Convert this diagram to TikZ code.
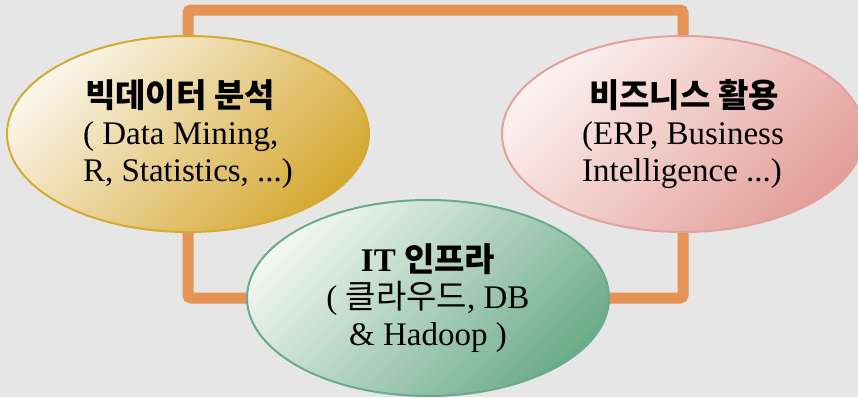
\documentclass[tikz,border=0pt]{standalone}
\usepackage{fontspec}
\setmainfont{Liberation Serif}
\newfontfamily\kr{Noto Sans CJK KR}
\usetikzlibrary{shapes.geometric}
\definecolor{bg}{HTML}{E6E6E6}
\definecolor{frameor}{HTML}{E59455}
\definecolor{ybd}{HTML}{D4AA30}
\definecolor{ytop}{HTML}{FBF5EA}
\definecolor{ybot}{HTML}{D5A933}
\definecolor{pbd}{HTML}{E3A19B}
\definecolor{ptop}{HTML}{FCF1F0}
\definecolor{pbot}{HTML}{E39F99}
\definecolor{gbd}{HTML}{6AAA88}
\definecolor{gtop}{HTML}{F1F6F3}
\definecolor{gbot}{HTML}{6DAC8A}
\tikzset{
  blob/.style={ellipse, draw, line width=2pt, inner sep=0pt,
    minimum width=362pt, minimum height=196pt,
    font=\fontsize{33}{37}\selectfont, text=black},
  framepath/.style={draw=frameor, line width=11pt, rounded corners=3pt}
}
\begin{document}
\begin{tikzpicture}[x=1pt,y=-1pt]
\useasboundingbox[fill=bg] (0,0) rectangle (858,397);
\coordinate (tl) at (188,10);
\coordinate (tr) at (683,10);
\coordinate (y0) at (188,134);
\coordinate (p0) at (683,134);
\coordinate (g0) at (428,298);
\draw[framepath] (y0) -- (tl) -- (tr) -- (p0) |- (g0) -| (y0);
\node[blob, draw=ybd, top color=ytop, bottom color=ybot, shading angle=45, align=left] (yel) at (y0)
  {\hspace*{2pt}{\kr\bfseries 빅데이터 분석}\\( Data Mining,\\R, Statistics, ...)};
\node[blob, draw=pbd, top color=ptop, bottom color=pbot, shading angle=45, align=left] (pink) at (p0)
  {\hspace*{7pt}{\kr\bfseries 비즈니스 활용}\\(ERP, Business\\Intelligence ...)};
\node[blob, draw=gbd, top color=gtop, bottom color=gbot, shading angle=45, align=center] (green) at (g0)
  {\textbf{IT} {\kr\bfseries 인프라}\\( {\kr 클라우드}, DB\\\& Hadoop )};
\end{tikzpicture}
\end{document}
